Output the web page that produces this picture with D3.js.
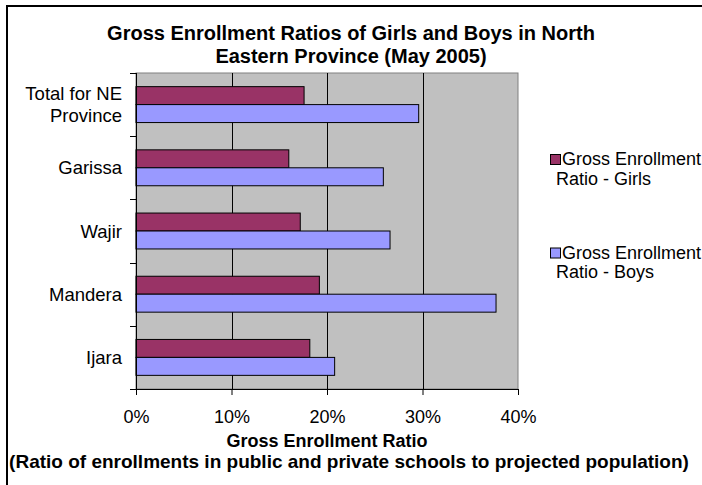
<!DOCTYPE html>
<html>
<head>
<meta charset="utf-8">
<script src="https://cdn.jsdelivr.net/npm/d3@7"></script>
<style>
    body { margin: 0; background: #ffffff; }
    text { font-family: "Liberation Sans", Arial, sans-serif; fill: #000; }
</style>
</head>
<body>
<div id="chart"></div>
<script>
// data
var categories = ["Total for NE\nProvince", "Garissa", "Wajir", "Mandera", "Ijara"];
var seriesNames = ["Gross Enrollment Ratio - Girls", "Gross Enrollment Ratio - Boys"];
var legendLines = [["Gross Enrollment", "Ratio - Girls"], ["Gross Enrollment", "Ratio - Boys"]];
var girls = [17.6, 16.0, 17.2, 19.2, 18.2];
var boys = [29.6, 25.9, 26.6, 37.7, 20.8];
var xTicks = [0, 10, 20, 30, 40];
var colors = ["#993366", "#9999ff"];

var w = 702,
    h = 485;

var plot = {
    left: 136,
    top: 73,
    right: 518,
    bottom: 389
};

var svg = d3.select("#chart")
    .append("svg")
    .attr("width", w)
    .attr("height", h);

// outer chart border (only top and left visible in the frame)
svg.append("rect")
    .attr("x", 7)
    .attr("y", 6)
    .attr("width", w + 20)
    .attr("height", h + 20)
    .style("fill", "#ffffff")
    .style("stroke", "#000")
    .style("stroke-width", 2);

// scales
var xScale = d3.scaleLinear()
    .domain([0, 40])
    .range([plot.left, plot.right]);

var yScale = d3.scaleBand()
    .domain(categories)
    .range([plot.top, plot.bottom]);

var ySub = d3.scaleBand()
    .domain([0, 1])
    .range([0, yScale.bandwidth()])
    .paddingOuter(0.76);

// plot background
svg.append("rect")
    .attr("x", plot.left)
    .attr("y", plot.top)
    .attr("width", plot.right - plot.left)
    .attr("height", plot.bottom - plot.top)
    .style("fill", "#c0c0c0")
    .style("stroke", "#808080")
    .style("stroke-width", 1);

// vertical gridlines
svg.selectAll("line.grid")
    .data(xTicks.slice(1, -1))
    .enter()
    .append("line")
    .attr("class", "grid")
    .attr("x1", function (d) { return Math.round(xScale(d)) + 0.5; })
    .attr("x2", function (d) { return Math.round(xScale(d)) + 0.5; })
    .attr("y1", plot.top)
    .attr("y2", plot.bottom)
    .style("stroke", "#000")
    .style("stroke-width", 1);

// bars, one group per series
var series = [girls, boys];

series.forEach(function (values, s) {
    svg.selectAll("rect.bar" + s)
        .data(values)
        .enter()
        .append("rect")
        .attr("class", "bar" + s)
        .attr("x", xScale(0))
        .attr("y", function (d, i) { return yScale(categories[i]) + ySub(s); })
        .attr("width", function (d) { return xScale(d) - xScale(0); })
        .attr("height", ySub.bandwidth())
        .style("fill", colors[s])
        .style("stroke", "#000")
        .style("stroke-width", 1);
});

// bottom axis
var xAxis = d3.axisBottom(xScale)
    .tickValues(xTicks)
    .tickSize(6)
    .tickFormat(function (d) { return d + "%"; });

var gx = svg.append("g")
    .attr("transform", "translate(0," + plot.bottom + ")")
    .call(xAxis);

gx.select(".domain").attr("stroke", "#000");
gx.selectAll(".tick line").attr("stroke", "#000");
gx.selectAll(".tick text")
    .attr("y", 0)
    .attr("dy", 34)
    .style("font-size", "18px")
    .style("font-family", "'Liberation Sans', Arial, sans-serif")
    .attr("fill", "#000");

// left axis: ticks on category boundaries
svg.append("line")
    .attr("x1", plot.left + 0.5)
    .attr("x2", plot.left + 0.5)
    .attr("y1", plot.top)
    .attr("y2", plot.bottom)
    .style("stroke", "#000");

var boundaries = categories.map(function (c) { return yScale(c); }).concat([plot.bottom]);

svg.selectAll("line.ytick")
    .data(boundaries)
    .enter()
    .append("line")
    .attr("class", "ytick")
    .attr("x1", plot.left - 6)
    .attr("x2", plot.left)
    .attr("y1", function (d) { return Math.round(d) + 0.5; })
    .attr("y2", function (d) { return Math.round(d) + 0.5; })
    .style("stroke", "#000");

// category labels, possibly two lines
var catLabels = svg.selectAll("text.cat")
    .data(categories)
    .enter()
    .append("text")
    .attr("class", "cat")
    .attr("text-anchor", "end")
    .style("font-size", "18.5px");

catLabels.each(function (d) {
    var lines = d.split("\n"),
        center = yScale(d) + yScale.bandwidth() / 2;
    var t = d3.select(this);
    lines.forEach(function (line, i) {
        t.append("tspan")
            .attr("x", 122)
            .attr("y", center + 6.5 + (i - (lines.length - 1) / 2) * 21.6)
            .text(line);
    });
});

// title
var titleLines = ["Gross Enrollment Ratios of Girls and Boys in North", "Eastern Province (May 2005)"];

svg.selectAll("text.title")
    .data(titleLines)
    .enter()
    .append("text")
    .attr("class", "title")
    .attr("x", 351)
    .attr("y", function (d, i) { return 40 + i * 23; })
    .attr("text-anchor", "middle")
    .style("font-size", "20px")
    .style("font-weight", "bold")
    .text(function (d) { return d; });

// axis titles
svg.append("text")
    .attr("x", (plot.left + plot.right) / 2)
    .attr("y", 447)
    .attr("text-anchor", "middle")
    .style("font-size", "18px")
    .style("font-weight", "bold")
    .text("Gross Enrollment Ratio");

svg.append("text")
    .attr("x", 349)
    .attr("y", 468)
    .attr("text-anchor", "middle")
    .style("font-size", "19px")
    .style("font-weight", "bold")
    .text("(Ratio of enrollments in public and private schools to projected population)");

// legend
var legend = svg.selectAll("g.legend")
    .data(seriesNames)
    .enter()
    .append("g")
    .attr("class", "legend")
    .attr("transform", function (d, i) { return "translate(550," + (154 + i * 93.5) + ")"; });

legend.append("rect")
    .attr("x", 0.5)
    .attr("y", 0.5)
    .attr("width", 10)
    .attr("height", 10)
    .style("fill", function (d, i) { return colors[i]; })
    .style("stroke", "#000")
    .style("stroke-width", 1);

// first line sits after the swatch, second line wraps under it
legend.append("text")
    .style("font-size", "18px")
    .each(function (d, i) {
        var t = d3.select(this);
        legendLines[i].forEach(function (line, j) {
            t.append("tspan")
                .attr("x", j == 0 ? 12 : 6)
                .attr("y", 11 + j * 19.5)
                .text(line);
        });
    });
</script>
</body>
</html>
